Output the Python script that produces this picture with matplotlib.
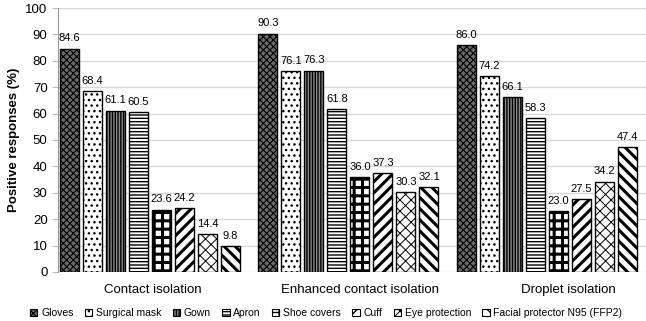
import numpy as np
import matplotlib.pyplot as plt

plt.rcParams['font.family'] = ['Liberation Sans', 'DejaVu Sans']

groups = ["Contact isolation", "Enhanced contact isolation", "Droplet isolation"]
items = ["Gloves", "Surgical mask", "Gown", "Apron", "Shoe covers", "Cuff",
         "Eye protection", "Facial protector N95 (FFP2)"]
gloves = [84.6, 90.3, 86.0]
surgical_mask = [68.4, 76.1, 74.2]
gown = [61.1, 76.3, 66.1]
apron = [60.5, 61.8, 58.3]
shoe_covers = [23.6, 36.0, 23.0]
cuff = [24.2, 37.3, 27.5]
eye_protection = [14.4, 30.3, 34.2]
facial_protector = [9.8, 32.1, 47.4]
series = [gloves, surgical_mask, gown, apron, shoe_covers, cuff,
          eye_protection, facial_protector]

# (facecolor, hatch, hatch linewidth)
styles = [
    ("#6a6a6a", "xxxxx", 0.8),
    ("white", "...", 1.0),
    ("#8a8a8a", "||||||", 1.0),
    ("white", "-----", 1.0),
    ("white", "++", 2.2),
    ("white", "///", 2.2),
    ("white", "xxx", 0.7),
    ("white", "\\\\\\", 2.2),
]

fig, ax = plt.subplots(figsize=(6.46, 3.21), dpi=100)
fig.subplots_adjust(left=0.0898, right=1.0, top=0.975, bottom=0.153)

x = np.arange(len(groups))
slot = 0.1159
width = 0.0957
for i, (vals, name, st) in enumerate(zip(series, items, styles)):
    fc, hatch, hlw = st
    plt.rcParams['hatch.linewidth'] = hlw
    pos = x + (i - 3.5) * slot
    bars = ax.bar(pos, vals, width, label=name, facecolor=fc, hatch=hatch,
                  edgecolor="black", linewidth=1.0, zorder=3)
    for b in bars:
        if hasattr(b, "set_hatch_linewidth"):
            b.set_hatch_linewidth(hlw)
    for b, v in zip(bars, vals):
        ax.text(b.get_x() + b.get_width() / 2, v + 2, f"{v:.1f}",
                ha="center", va="bottom", fontsize=8)

ax.set_ylim(0, 100)
ax.set_yticks(range(0, 101, 10))
ax.set_xlim(-0.4635, 2.499)
ax.set_xticks(x + np.array([0.015, 0.06, 0.11]))
ax.set_xticklabels(groups, fontsize=9.5)
ax.tick_params(axis="x", length=0, pad=9)
ax.tick_params(axis="y", labelsize=9.5, length=4, color="#bbbbbb")
ax.set_ylabel("Positive responses (%)", fontsize=9.5, fontweight="bold")
ax.grid(axis="y", color="#d9d9d9", linewidth=1, zorder=0)
for s in ["top", "right", "bottom"]:
    ax.spines[s].set_visible(False)
ax.spines["left"].set_color("#999999")

leg = ax.legend(loc="center", bbox_to_anchor=(0.505, 0.025),
                bbox_transform=fig.transFigure, ncol=8, frameon=False,
                fontsize=7.5, handlelength=0.7, handleheight=0.7,
                handletextpad=0.35, columnspacing=1.1, borderpad=0)
for p, st in zip(leg.get_patches(), styles):
    p.set_linewidth(0.8)
    if hasattr(p, "set_hatch_linewidth"):
        p.set_hatch_linewidth(min(st[2], 1.0))

plt.savefig("out.png", dpi=100)
